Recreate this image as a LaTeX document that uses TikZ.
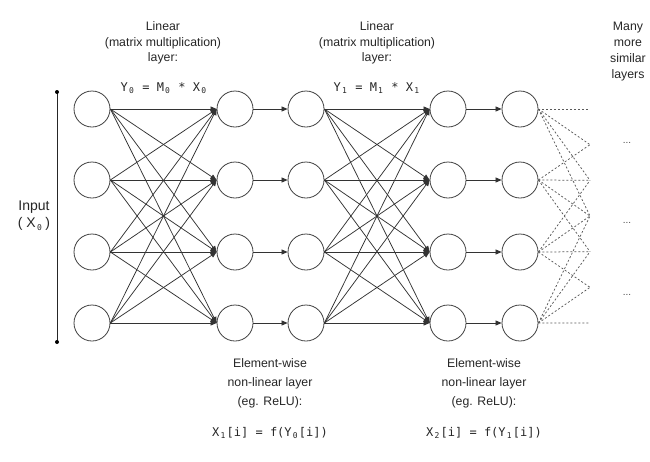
\documentclass[tikz,border=0pt]{standalone}
\usepackage{fontspec}
\setmainfont{Liberation Sans}
\setsansfont{Liberation Sans}
\setmonofont{DejaVu Sans Mono}
\usetikzlibrary{arrows.meta}
\newcommand\mysub[1]{\makebox[7.2pt]{\raisebox{-0.4ex}{\fontsize{8}{8}\selectfont #1}}}
\begin{document}
\begin{tikzpicture}[x=1pt,y=-1pt,
  neuron/.style={circle,draw=black!75,line width=0.8pt,minimum size=36pt,inner sep=0pt},
  conn/.style={draw=black!80,line width=0.75pt,-{Triangle[length=6pt,width=5pt]}},
  dconn/.style={draw=black!65,line width=0.75pt,dash pattern=on 2pt off 2pt},
  lbltop/.style={align=center,font=\fontsize{12.3}{15.5}\selectfont,text=black!85},
  lblbot/.style={align=center,font=\fontsize{12.3}{19}\selectfont,text=black!85},
  frm/.style={font=\fontsize{12}{14}\selectfont\ttfamily,text=black!85},
  dots/.style={font=\fontsize{10}{12}\selectfont,text=black!70}]
\useasboundingbox (0,0) rectangle (650,461);
\foreach \c/\x in {1/92,2/235,3/306,4/448,5/520}
  \foreach \r/\y in {1/109,2/180,3/252,4/323}
    \node[neuron] (n\c\r) at (\x,\y) {};
\foreach \i in {1,...,4}
  \foreach \j in {1,...,4} {
    \draw[conn] (n1\i.east) -- (n2\j.west);
    \draw[conn] (n3\i.east) -- (n4\j.west);
  }
\foreach \i in {1,...,4} {
  \draw[conn] (n2\i) -- (n3\i);
  \draw[conn] (n4\i) -- (n5\i);
}
\foreach \k in {0,...,6}
  \coordinate (e\k) at (590,109+35.67*\k);
\foreach \i in {1,...,4}
  \foreach \j in {1,...,4} {
    \pgfmathtruncatemacro\k{\i+\j-2}
    \draw[dconn] (n5\i.east) -- (e\k);
  }
% input bar
\coordinate (itop) at (57,92);
\coordinate (ibot) at (57,342);
\draw[black!85,line width=0.9pt] (itop) -- (ibot);
\fill[black] (itop) circle (2pt) (ibot) circle (2pt);
\node[align=center,font=\fontsize{14}{17}\selectfont,text=black!85] (inp) at (34,216) {Input\\( X\mysub{\ttfamily 0}\,)};
% top labels
\node[lbltop] (lin0) at (163,43) {Linear\\(matrix multiplication)\\layer:};
\node[lbltop] (lin1) at (377,43) {Linear\\(matrix multiplication)\\layer:};
\node[frm] (f0) at (164,88) {Y\mysub{0} = M\mysub{0} * X\mysub{0}};
\node[frm] (f1) at (377,88) {Y\mysub{1} = M\mysub{1} * X\mysub{1}};
\node[lbltop,font=\fontsize{12.3}{16}\selectfont] (many) at (628,52) {Many\\more\\similar\\layers};
% dots
\node[dots] (d1) at (627,143) {...};
\node[dots] (d2) at (627,223) {...};
\node[dots] (d3) at (627,295) {...};
% bottom labels
\node[lblbot] (el0) at (270,383) {Element-wise\\non-linear layer\\(eg. ReLU):};
\node[lblbot] (el1) at (484,383) {Element-wise\\non-linear layer\\(eg. ReLU):};
\node[frm] (g0) at (270,433) {X\mysub{1}[i] = f(Y\mysub{0}[i])};
\node[frm] (g1) at (484,433) {X\mysub{2}[i] = f(Y\mysub{1}[i])};
\end{tikzpicture}
\end{document}
